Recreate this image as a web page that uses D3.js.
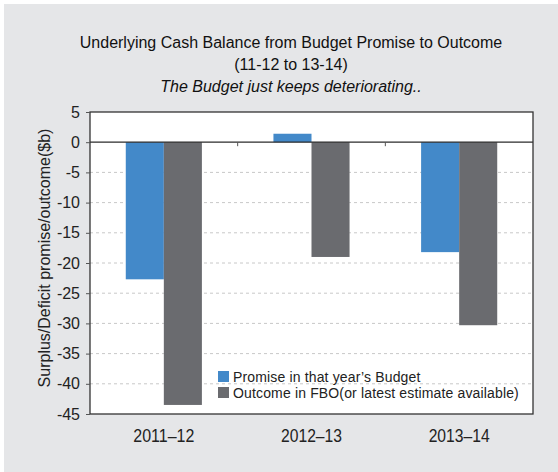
<!DOCTYPE html>
<html>
<head>
<meta charset="utf-8">
<script src="https://cdn.jsdelivr.net/npm/d3@7"></script>
<style>
  body { margin: 0; background: #fff; }
  svg { display: block; }
</style>
</head>
<body>
<svg id="chart" width="558" height="472"></svg>
<script>
const categories = ["2011\u201312", "2012\u201313", "2013\u201314"];
const promise = [-22.7, 1.4, -18.2];
const outcome = [-43.5, -19.0, -30.3];
const seriesNames = ["Promise in that year\u2019s Budget", "Outcome in FBO(or latest estimate available)"];
const yTicks = [5, 0, -5, -10, -15, -20, -25, -30, -35, -40, -45];

const colors = ["#4389c9", "#6a6b6f"];
const svg = d3.select("#chart");
const m = { left: 90, right: 533, top: 112, bottom: 414 };

svg.append("rect").attr("x", 4).attr("y", 4).attr("width", 554).attr("height", 468).attr("fill", "#e5e6e8");
svg.append("rect").attr("x", m.left).attr("y", m.top).attr("width", m.right - m.left).attr("height", m.bottom - m.top).attr("fill", "#fff");

const x = d3.scaleBand().domain(categories).range([m.left, m.right]);
const xs = d3.scaleBand().domain([0, 1]).range([0, x.bandwidth()]).paddingOuter(0.94);
const y = d3.scaleLinear().domain([-45, 5]).range([m.bottom, m.top]);

// gridlines
svg.append("g").selectAll("line").data(yTicks.filter((t) => t < 0 && t > -45)).join("line")
  .attr("x1", m.left).attr("x2", m.right).attr("y1", (d) => y(d)).attr("y2", (d) => y(d))
  .attr("stroke", "#c8c8c8").attr("stroke-dasharray", "3,3");

// bars
const rows = categories.map((c, i) => [promise[i], outcome[i]]);
const grp = svg.append("g").selectAll("g").data(rows).join("g")
  .attr("transform", (d, i) => `translate(${x(categories[i])},0)`);
grp.selectAll("rect").data((d) => d.map((v, k) => ({ v, k }))).join("rect")
  .attr("x", (d) => xs(d.k)).attr("width", xs.bandwidth())
  .attr("y", (d) => y(Math.max(0, d.v))).attr("height", (d) => Math.abs(y(d.v) - y(0)))
  .attr("fill", (d) => colors[d.k]);

// zero line with category ticks
svg.append("line").attr("x1", m.left).attr("x2", m.right).attr("y1", y(0)).attr("y2", y(0)).attr("stroke", "#2b2b2b").attr("stroke-width", 1.3);
svg.append("g").selectAll("line").data(categories.slice(1)).join("line")
  .attr("x1", (d) => x(d)).attr("x2", (d) => x(d)).attr("y1", y(0)).attr("y2", y(0) + 4)
  .attr("stroke", "#555");

// frame
svg.append("rect").attr("x", m.left).attr("y", m.top).attr("width", m.right - m.left).attr("height", m.bottom - m.top)
  .attr("fill", "none").attr("stroke", "#333").attr("stroke-width", 1.3);

// y axis
const yAxis = svg.append("g").attr("transform", `translate(${m.left},0)`)
  .call(d3.axisLeft(y).tickValues(yTicks).tickSize(4).tickPadding(6).tickFormat(d3.format("d")));
yAxis.select(".domain").remove();
yAxis.selectAll("line").attr("stroke", "#555");
yAxis.selectAll("text").attr("font-family", "Liberation Sans, Arial, sans-serif").attr("font-size", 16).attr("fill", "#222")
  .text((d) => String(d).replace("\u2212", "-"));

// x labels (narrow glyphs like the original)
svg.append("g").selectAll("text").data(categories).join("text")
  .attr("x", (d) => x(d) + x.bandwidth() / 2).attr("y", 442).attr("text-anchor", "middle")
  .attr("font-family", "Liberation Sans, Arial, sans-serif").attr("font-size", 19).attr("fill", "#222")
  .attr("textLength", 61).attr("lengthAdjust", "spacingAndGlyphs")
  .text((d) => d);

// title
const title = svg.append("g").attr("font-family", "Liberation Sans, Arial, sans-serif").attr("fill", "#111").attr("text-anchor", "middle");
title.append("text").attr("x", 291).attr("y", 48).attr("font-size", 16).text("Underlying Cash Balance from Budget Promise to Outcome");
title.append("text").attr("x", 291).attr("y", 70).attr("font-size", 16).text("(11-12 to 13-14)");
title.append("text").attr("x", 291).attr("y", 92).attr("font-size", 16).attr("font-style", "italic").text("The Budget just keeps deteriorating..");

// y label
svg.append("text").attr("transform", "translate(50,258) rotate(-90)").attr("text-anchor", "middle")
  .attr("font-family", "Liberation Sans, Arial, sans-serif").attr("font-size", 16).attr("fill", "#222")
  .text("Surplus/Deficit promise/outcome($b)");

// legend
const leg = svg.append("g").selectAll("g").data(seriesNames).join("g")
  .attr("transform", (d, i) => `translate(218,${371 + i * 16})`);
leg.append("rect").attr("width", 11).attr("height", 11).attr("fill", (d, i) => colors[i]);
leg.append("text").attr("x", 15).attr("y", 10.5).attr("font-family", "Liberation Sans, Arial, sans-serif").attr("font-size", 14)
  .attr("letter-spacing", 0.15).attr("fill", "#222")
  .text((d) => d);
</script>
</body>
</html>
